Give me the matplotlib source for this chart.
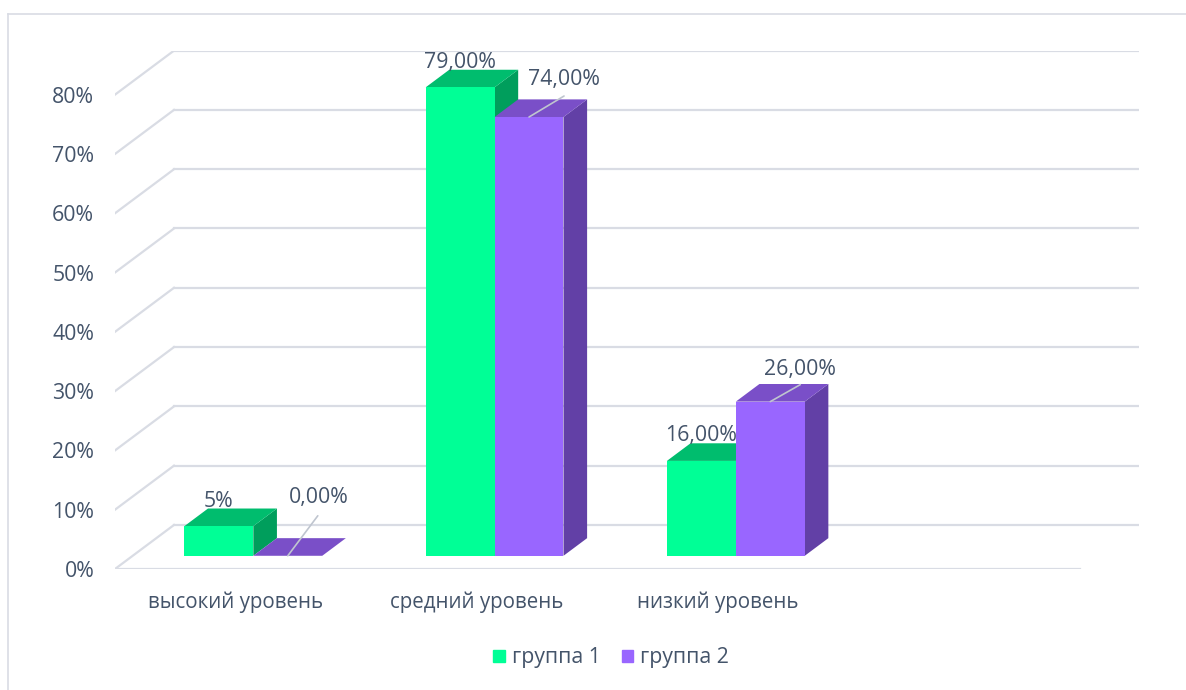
import matplotlib
matplotlib.use("Agg")
import matplotlib.pyplot as plt
from matplotlib.patches import Patch
from matplotlib.lines import Line2D

categories = ["высокий уровень", "средний уровень", "низкий уровень"]
series_names = ["группа 1", "группа 2"]
group1 = [0.05, 0.79, 0.16]
group2 = [0.00, 0.74, 0.26]
labels1 = ["5%", "79,00%", "16,00%"]
labels2 = ["0,00%", "74,00%", "26,00%"]
y_ticks = [0.0, 0.1, 0.2, 0.3, 0.4, 0.5, 0.6, 0.7, 0.8]
n_slots = 4  # chart keeps room for a fourth, empty category

# colours: front, top, side
GREEN = ("#00FF96", "#00BD6E", "#009E5C")
PURPLE = ("#9966FF", "#7A4FC8", "#6240A6")
TEXT = "#44546A"
GRID = "#D9DCE4"

# oblique depth of the floor, in data units
DX = 0.2446
DY = 0.0743
D0, D1 = 0.3, 0.7  # bars sit in the middle of the floor depth
W = 0.2857

plt.rcParams["font.family"] = ["Open Sans", "DejaVu Sans"]

fig = plt.figure(figsize=(11.86, 6.90), dpi=100)
ax = fig.add_axes([115 / 1186, 121 / 690, 1024 / 1186, 518.4 / 690])
ax.set_xlim(0, n_slots + DX)
ax.set_ylim(0, y_ticks[-1] + DY)
for s in ax.spines.values():
    s.set_visible(False)

# walls / floor grid
for t in y_ticks:
    ax.plot([DX, n_slots + DX], [t + DY, t + DY], color=GRID, lw=1.6, zorder=1)
    ax.plot([0, DX], [t, t + DY], color=GRID, lw=1.6, zorder=1)
ax.plot([0, n_slots], [0, 0], color=GRID, lw=1.6, zorder=1)


def draw_bar(x0, v, cols):
    x1 = x0 + W
    front, top, side = cols
    # side face
    ax.fill([x1 + D0 * DX, x1 + D0 * DX, x1 + D1 * DX, x1 + D1 * DX],
            [D0 * DY, v + D0 * DY, v + D1 * DY, D1 * DY],
            color=side, lw=0, zorder=2)
    # top face
    ax.fill([x0 + D0 * DX, x1 + D0 * DX, x1 + D1 * DX, x0 + D1 * DX],
            [v + D0 * DY, v + D0 * DY, v + D1 * DY, v + D1 * DY],
            color=top, lw=0, zorder=2)
    ax.bar(x0 + D0 * DX, v, width=W, bottom=D0 * DY, align="edge",
           color=front, lw=0, zorder=2)


for i in range(len(categories)):
    c = i + 0.5
    draw_bar(c - W, group1[i], GREEN)
    draw_bar(c, group2[i], PURPLE)

# data labels
label_offsets2 = [(31, -58), (35, -38), (30, -32)]
leader_ends2 = [(30, -40), (35, -21), (30, -17)]
px = 0.72
for i in range(len(categories)):
    c = i + 0.5
    cx1 = c - W / 2 + D0 * DX
    ax.annotate(labels1[i], xy=(cx1, group1[i] + D0 * DY), xytext=(0, 25 * px),
                textcoords="offset points", ha="center", va="center",
                fontsize=15.3, color=TEXT, zorder=5)
    cx2 = c + W / 2 + D0 * DX
    top2 = group2[i] + D0 * DY
    lx, ly = leader_ends2[i]
    ax.annotate("", xy=(cx2, top2), xytext=(lx * px, -ly * px),
                textcoords="offset points",
                arrowprops=dict(arrowstyle="-", color="#BFC5CF", lw=1.2,
                                shrinkA=0, shrinkB=0), zorder=5)
    tx, ty = label_offsets2[i]
    ax.annotate(labels2[i], xy=(cx2, top2), xytext=(tx * px, -ty * px),
                textcoords="offset points", ha="center", va="center",
                fontsize=15.3, color=TEXT, zorder=5)

ax.set_yticks(y_ticks)
ax.set_yticklabels([f"{int(round(t * 100))}%" for t in y_ticks])
ax.set_xticks([i + 0.5 for i in range(len(categories))])
ax.set_xticklabels(categories)
ax.tick_params(axis="y", length=0, pad=15, labelsize=15.3, labelcolor=TEXT)
ax.tick_params(axis="x", length=0, pad=16, labelsize=14.8, labelcolor=TEXT)

handles = [Patch(color=GREEN[0]), Patch(color=PURPLE[0])]
fig.legend(handles, series_names, loc="center", bbox_to_anchor=(611 / 1186, 1 - 658 / 690),
           ncol=2, frameon=False, fontsize=15.3, labelcolor=TEXT,
           handlelength=0.55, handleheight=0.55, handletextpad=0.3, columnspacing=1.0)

# outer border of the chart area
fig.add_artist(Line2D([8 / 1186, 1], [1 - 14 / 690, 1 - 14 / 690], color=GRID, lw=1.2))
fig.add_artist(Line2D([8 / 1186, 8 / 1186], [0, 1 - 14 / 690], color=GRID, lw=1.2))

fig.savefig("out.png", dpi=100)
